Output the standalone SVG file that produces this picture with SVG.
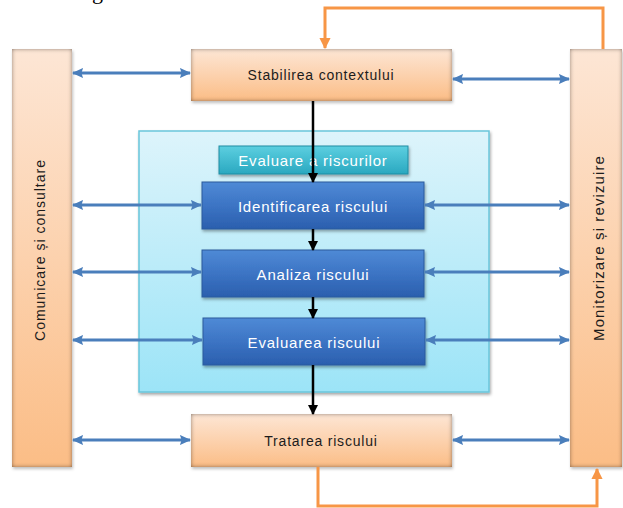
<svg xmlns="http://www.w3.org/2000/svg" width="623" height="508" viewBox="0 0 623 508">
<defs>
<linearGradient id="gOrange" x1="0" y1="0" x2="0" y2="1">
<stop offset="0" stop-color="#fde6d5"/><stop offset="1" stop-color="#fbbd86"/>
</linearGradient>
<linearGradient id="gBlue" x1="0" y1="0" x2="0" y2="1">
<stop offset="0" stop-color="#4f8ad6"/><stop offset="0.5" stop-color="#3c74c4"/><stop offset="1" stop-color="#2b5fae"/>
</linearGradient>
<linearGradient id="gTeal" x1="0" y1="0" x2="0" y2="1">
<stop offset="0" stop-color="#5ccfe0"/><stop offset="1" stop-color="#2aa8c0"/>
</linearGradient>
<linearGradient id="gCont" x1="0" y1="0" x2="0" y2="1">
<stop offset="0" stop-color="#ddf4fb"/><stop offset="1" stop-color="#9ce4f7"/>
</linearGradient>
<filter id="inner" x="-10%" y="-10%" width="130%" height="130%">
<feGaussianBlur in="SourceAlpha" stdDeviation="2.2" result="b"/>
<feComposite in="SourceAlpha" in2="b" operator="arithmetic" k2="1" k3="-1" result="edge"/>
<feFlood flood-color="#4a3222" flood-opacity="0.9"/>
<feComposite in2="edge" operator="in" result="sh"/>
<feGaussianBlur in="SourceAlpha" stdDeviation="1.5" result="ob"/>
<feOffset in="ob" dx="1" dy="1.5" result="oo"/>
<feFlood flood-color="#000" flood-opacity="0.25"/>
<feComposite in2="oo" operator="in" result="drop"/>
<feMerge><feMergeNode in="drop"/><feMergeNode in="SourceGraphic"/><feMergeNode in="sh"/></feMerge>
</filter>
<filter id="drop" x="-10%" y="-10%" width="130%" height="140%">
<feGaussianBlur in="SourceAlpha" stdDeviation="1.8" result="ob"/>
<feOffset in="ob" dx="1" dy="2" result="oo"/>
<feFlood flood-color="#000" flood-opacity="0.35"/>
<feComposite in2="oo" operator="in" result="d"/>
<feMerge><feMergeNode in="d"/><feMergeNode in="SourceGraphic"/></feMerge>
</filter>
<marker id="aBlue" viewBox="0 0 10 10" refX="9" refY="5" markerWidth="4" markerHeight="4" orient="auto-start-reverse" markerUnits="strokeWidth">
<path d="M0,0.5 L10,5 L0,9.5 L1.5,5 z" fill="#4a7ebb"/>
</marker>
<marker id="aBlack" viewBox="0 0 10 10" refX="9" refY="5" markerWidth="4" markerHeight="4" orient="auto" markerUnits="strokeWidth">
<path d="M0,0 L10,5 L0,10 z" fill="#000"/>
</marker>
<marker id="aOrange" viewBox="0 0 10 10" refX="9" refY="5" markerWidth="3.8" markerHeight="3.8" orient="auto" markerUnits="strokeWidth">
<path d="M0,0 L10,5 L0,10 z" fill="#f79646"/>
</marker>
</defs>
<style>
.t{font-family:"Liberation Sans",Arial,sans-serif;font-size:14px;text-anchor:middle;dominant-baseline:central;letter-spacing:0.8px}
.dark{fill:#1c1c1c}
.light{fill:#ffffff}
.blue{fill:none;stroke:#4a7ebb;stroke-width:2.8;marker-start:url(#aBlue);marker-end:url(#aBlue)}
.blk{fill:none;stroke:#000;stroke-width:2.5;marker-end:url(#aBlack)}
.org{fill:none;stroke:#f79646;stroke-width:3;marker-end:url(#aOrange)}
.obox{fill:url(#gOrange);filter:url(#inner)}
.bbox{fill:url(#gBlue);stroke:#2a5a9c;stroke-width:1;filter:url(#drop)}
</style>
<rect width="623" height="508" fill="#ffffff"/>
<text x="92" y="-1" font-family="'Liberation Serif',serif" font-size="22" fill="#000">g</text>

<g id="container">
<rect x="139" y="131" width="350" height="261" fill="url(#gCont)" stroke="#6ac6db" stroke-width="1.5" filter="url(#drop)"/>
</g>

<g id="comunicare">
<rect class="obox" x="12" y="49" width="60" height="418"/>
<text class="t dark" transform="translate(40,250) rotate(-90)" style="letter-spacing:1px">Comunicare și consultare</text>
</g>
<g id="monitorizare">
<rect class="obox" x="570" y="49" width="52" height="418"/>
<text class="t dark" transform="translate(598,248) rotate(-90)" style="font-size:15px;letter-spacing:1.1px">Monitorizare și revizuire</text>
</g>
<g id="stabilirea">
<rect class="obox" x="191" y="49" width="261" height="52"/>
<text class="t dark" x="321" y="75">Stabilirea contextului</text>
</g>
<g id="tratarea">
<rect class="obox" x="191" y="414" width="261" height="53"/>
<text class="t dark" x="321" y="441">Tratarea riscului</text>
</g>
<g id="evaluare-riscurilor">
<rect x="219" y="146" width="189" height="28" fill="url(#gTeal)" stroke="#1f8da3" stroke-width="1" filter="url(#drop)"/>
<text class="t light" x="313" y="160" style="font-size:15px">Evaluare a riscurilor</text>
</g>
<g id="identificarea">
<rect class="bbox" x="202" y="182" width="222" height="47"/>
<text class="t light" x="313" y="206" style="font-size:15px">Identificarea riscului</text>
</g>
<g id="analiza">
<rect class="bbox" x="202" y="250" width="222" height="47"/>
<text class="t light" x="313" y="274" style="font-size:15px">Analiza riscului</text>
</g>
<g id="evaluarea">
<rect class="bbox" x="203" y="318" width="222" height="47"/>
<text class="t light" x="314" y="342" style="font-size:15px">Evaluarea riscului</text>
</g>

<g id="connectors">
<line class="blue" x1="73" y1="73" x2="190" y2="73"/>
<line class="blue" x1="453" y1="79" x2="569" y2="79"/>
<line class="blue" x1="73" y1="205" x2="201" y2="205"/>
<line class="blue" x1="425" y1="205" x2="569" y2="205"/>
<line class="blue" x1="73" y1="272" x2="201" y2="272"/>
<line class="blue" x1="425" y1="272" x2="569" y2="272"/>
<line class="blue" x1="73" y1="340" x2="202" y2="340"/>
<line class="blue" x1="426" y1="340" x2="569" y2="340"/>
<line class="blue" x1="73" y1="440" x2="190" y2="440"/>
<line class="blue" x1="453" y1="440" x2="569" y2="440"/>
<line class="blk" x1="313" y1="101" x2="313" y2="182"/>
<line class="blk" x1="313" y1="229" x2="313" y2="250"/>
<line class="blk" x1="313" y1="297" x2="313" y2="318"/>
<line class="blk" x1="313" y1="365" x2="313" y2="414"/>
<path class="org" d="M603,49 V8 H325 V48"/>
<path class="org" d="M318,467 V506 H597 V469"/>
</g>
</svg>
